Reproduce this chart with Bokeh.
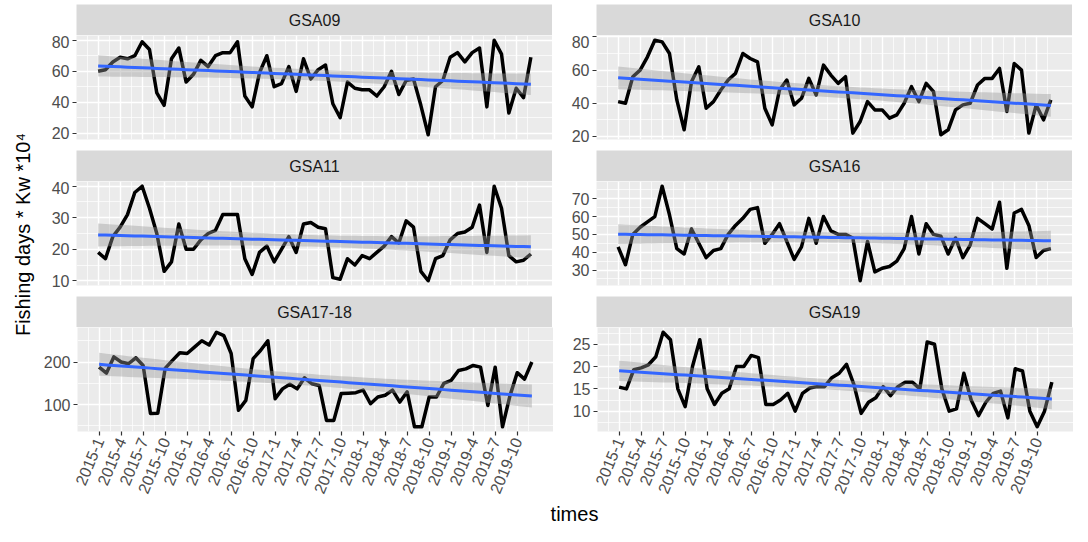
import math
import numpy as np
from bokeh.plotting import figure
from bokeh.layouts import row, column
from bokeh.models import Range1d, FixedTicker
from bokeh.core.properties import value
from bokeh.embed import file_html
from bokeh.resources import INLINE

# ---------------- data ----------------
facet_names = ["GSA09", "GSA10", "GSA11", "GSA16", "GSA17-18", "GSA19"]
months = list(range(1, 61))  # 2015-1 ... 2019-12

gsa09 = [60, 61, 66, 69, 68, 70, 79, 74, 46, 38, 68, 75, 53, 58, 67, 63, 70, 72, 72, 79,
         44, 37, 59, 70, 50, 52, 63, 47, 68, 55, 61, 64, 39, 30, 53, 49, 48, 48, 44, 50,
         60, 45, 54, 55, 38, 19, 50, 54, 69, 72, 66, 72, 75, 37, 80, 71, 33, 49, 43, 69]
gsa10 = [41, 40, 56, 60, 68, 78, 77, 70, 42, 24, 53, 62, 37, 41, 48, 54, 58, 70, 67, 65,
         37, 27, 48, 54, 39, 43, 55, 45, 63, 57, 52, 56, 22, 29, 41, 36, 36, 31, 33, 40,
         50, 41, 52, 47, 21, 24, 36, 39, 40, 51, 55, 55, 61, 35, 64, 60, 22, 39, 30, 42]
gsa11 = [19, 17, 24, 27, 31, 38, 40, 33, 25, 13, 16, 28, 20, 20, 23, 25, 26, 31, 31, 31,
         17, 12, 19, 21, 16, 20, 24, 19, 28, 28.5, 27, 26.5, 11, 10.5, 17, 15, 18, 17, 19, 21,
         24, 22, 29, 27, 13, 10, 17, 18, 23, 25, 25.5, 27, 34, 19, 40, 33, 18, 16, 16.5, 18.5]
gsa16 = [43, 33, 50, 54, 57, 60, 77, 61, 42, 39, 53, 45, 37, 41, 42, 50, 55, 59, 64, 65,
         45, 50, 56, 46, 36, 43, 59, 45, 60, 52, 50, 50, 48, 24, 46, 29, 31, 32, 35, 42,
         60, 39, 56, 50, 49, 39, 48, 37, 44, 59, 56, 53, 68, 31, 62, 64, 55, 37, 41, 42]
gsa17_18 = [188, 174, 212, 200, 196, 210, 192, 79, 80, 185, 204, 222, 220, 235, 250, 240, 270, 262, 220, 87,
            110, 208, 227, 250, 114, 137, 148, 137, 163, 149, 145, 63, 63, 126, 127, 128, 134, 102, 118, 122,
            134, 106, 130, 48, 48, 118, 118, 150, 157, 180, 184, 192, 188, 98, 188, 48, 120, 175, 160, 200]
gsa19 = [15.4, 15, 19.3, 19.7, 20.4, 22.2, 27.7, 26, 15, 11, 20, 26, 15, 11.5, 14, 15, 20, 20, 22.5, 22,
         11.5, 11.5, 12.5, 14, 10, 14, 15.2, 15.5, 15.5, 17.5, 18.5, 20.5, 16, 9.5, 12, 13, 15.5, 13.5, 15.5, 16.5,
         16.5, 15, 25.5, 25, 15, 10, 10.5, 18.5, 12.5, 9, 12, 14, 14.5, 8.5, 19.5, 19, 10, 6.5, 10, 16.5]
series = [gsa09, gsa10, gsa11, gsa16, gsa17_18, gsa19]

tick_months = [1, 4, 7, 10, 13, 16, 19, 22, 25, 28, 31, 34, 37, 40, 43, 46, 49, 52, 55, 58]
tick_labels = ["2015-1", "2015-4", "2015-7", "2015-10", "2016-1", "2016-4", "2016-7", "2016-10",
               "2017-1", "2017-4", "2017-7", "2017-10", "2018-1", "2018-4", "2018-7", "2018-10",
               "2019-1", "2019-4", "2019-7", "2019-10"]
y_breaks = [[20, 40, 60, 80], [20, 40, 60, 80], [10, 20, 30, 40],
            [30, 40, 50, 60, 70], [100, 200], [10, 15, 20, 25]]

x_title = "times"
y_title = "Fishing days * Kw *10\u2074"

# ---------------- style / layout ----------------
FONT = "Liberation Sans"
FW, FH = 476, 104
STRIP_H = 31
TOP = 4
GAP = 11
AXIS_B = 71
XT_H = 22
YT_W = 40
BORDER_L = [36, 44]
TOTAL_H = TOP + 3 * STRIP_H + 3 * FH + 2 * GAP + AXIS_B + XT_H
TOTAL_W = YT_W + BORDER_L[0] + FW + BORDER_L[1] + FW


def lm_band(x, y):
    x = np.asarray(x, float)
    y = np.asarray(y, float)
    n = len(x)
    b, a = np.polyfit(x, y, 1)
    fit = a + b * x
    s = np.sqrt(np.sum((y - fit) ** 2) / (n - 2))
    sxx = np.sum((x - x.mean()) ** 2)
    se = s * np.sqrt(1.0 / n + (x - x.mean()) ** 2 / sxx)
    t = 2.0017  # qt(0.975, 58)
    return fit, fit - t * se, fit + t * se


def minor_of(breaks):
    step = breaks[1] - breaks[0]
    ext = [breaks[0] - step] + list(breaks) + [breaks[-1] + step]
    return [(a + b) / 2 for a, b in zip(ext[:-1], ext[1:])]


def make_strip(name, col, first):
    s = figure(frame_width=FW, frame_height=STRIP_H,
               x_range=Range1d(0, 1), y_range=Range1d(0, 1),
               x_axis_location=None, y_axis_location=None,
               toolbar_location=None, output_backend="svg", title=None,
               min_border=0, min_border_left=BORDER_L[col], min_border_right=0,
               min_border_top=TOP if first else 0, min_border_bottom=0,
               background_fill_color="#D9D9D9", border_fill_color="white",
               outline_line_color=None)
    s.grid.visible = False
    s.text(x=[0.5], y=[0.5], text=[name], text_align="center", text_baseline="middle",
           text_font=value(FONT), text_font_size="16px", text_color="#1A1A1A")
    return s


def make_panel(i, col, bottom):
    vals = series[i]
    fit, lo, hi = lm_band(months, vals)
    ymin = min(min(vals), float(lo.min()))
    ymax = max(max(vals), float(hi.max()))
    pad = 0.05 * (ymax - ymin)
    xpad = 0.05 * (months[-1] - months[0])
    p = figure(frame_width=FW, frame_height=FH,
               x_range=Range1d(months[0] - xpad, months[-1] + xpad),
               y_range=Range1d(ymin - pad, ymax + pad),
               x_axis_location="below" if bottom else None,
               toolbar_location=None, output_backend="svg", title=None,
               min_border=0, min_border_left=BORDER_L[col], min_border_right=0,
               min_border_top=0, min_border_bottom=AXIS_B if bottom else GAP,
               background_fill_color="#EBEBEB", border_fill_color="white",
               outline_line_color=None)

    x_minor = [t + 1.5 for t in [tick_months[0] - 3] + tick_months]
    xt = FixedTicker(ticks=tick_months, minor_ticks=x_minor)
    yt = FixedTicker(ticks=y_breaks[i], minor_ticks=minor_of(y_breaks[i]))

    for g, tk in ((p.xgrid, xt), (p.ygrid, yt)):
        g.ticker = tk
        g.grid_line_color = "white"
        g.grid_line_width = 1.4
        g.minor_grid_line_color = "white"
        g.minor_grid_line_width = 0.7

    p.yaxis.ticker = yt
    axes = [p.yaxis]
    if bottom:
        p.xaxis.ticker = xt
        p.xaxis.major_label_overrides = {m: lab for m, lab in zip(tick_months, tick_labels)}
        p.xaxis.major_label_orientation = math.radians(67)
        axes.append(p.xaxis)
    for ax in axes:
        ax.axis_line_color = None
        ax.major_tick_line_color = "#333333"
        ax.major_tick_line_width = 1.2
        ax.major_tick_out = 4
        ax.major_tick_in = 0
        ax.minor_tick_line_color = None
        ax.major_label_text_font = FONT
        ax.major_label_text_font_size = "16px"
        ax.major_label_text_color = "#4D4D4D"
        ax.major_label_standoff = 3

    p.line(months, vals, line_color="black", line_width=3.5, line_join="round")
    p.varea(x=months, y1=lo, y2=hi, fill_color="#999999", fill_alpha=0.4)
    p.line(months, fit, line_color="#3366FF", line_width=3)
    return p


rows = []
for r in range(3):
    rows.append(row(make_strip(facet_names[2 * r], 0, r == 0),
                    make_strip(facet_names[2 * r + 1], 1, r == 0)))
    rows.append(row(make_panel(2 * r, 0, r == 2), make_panel(2 * r + 1, 1, r == 2)))

xt_fig = figure(frame_width=TOTAL_W - YT_W, frame_height=XT_H,
                x_range=Range1d(YT_W, TOTAL_W), y_range=Range1d(0, XT_H),
                x_axis_location=None, y_axis_location=None,
                toolbar_location=None, output_backend="svg", title=None,
                min_border=0, background_fill_color=None, border_fill_color=None,
                outline_line_color=None)
xt_fig.grid.visible = False
panel_left = YT_W + BORDER_L[0]
panel_right = TOTAL_W
xt_fig.text(x=[(panel_left + panel_right) / 2], y=[XT_H / 2], text=[x_title],
            text_align="center", text_baseline="middle",
            text_font=value(FONT), text_font_size="20px", text_color="black")
rows.append(xt_fig)

yt_fig = figure(frame_width=YT_W, frame_height=TOTAL_H,
                x_range=Range1d(0, YT_W), y_range=Range1d(0, TOTAL_H),
                x_axis_location=None, y_axis_location=None,
                toolbar_location=None, output_backend="svg", title=None,
                min_border=0, background_fill_color=None, border_fill_color=None,
                outline_line_color=None)
yt_fig.grid.visible = False
yt_fig.text(x=[22], y=[TOTAL_H - 234], text=[y_title], angle=math.pi / 2,
            text_align="center", text_baseline="middle",
            text_font=value(FONT), text_font_size="20px", text_color="black")

layout = row(yt_fig, column(*rows))

open("out.html", "w").write(file_html(layout, INLINE))
